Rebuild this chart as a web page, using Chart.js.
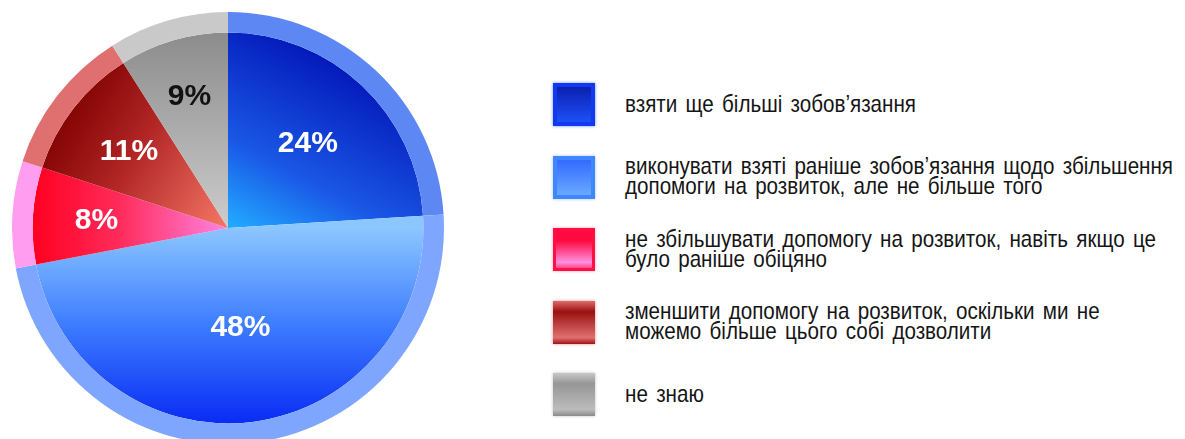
<!DOCTYPE html>
<html>
<head>
<meta charset="utf-8">
<script src="https://cdn.jsdelivr.net/npm/chart.js@4.4.0/dist/chart.umd.min.js"></script>
<style>
    html, body { margin: 0; padding: 0; background: #fff; overflow: hidden; width: 1185px; height: 439px; }
    #pieWrap { position: absolute; left: 12px; top: 12px; width: 432px; height: 432px; }
    #legend { position: absolute; left: 553px; top: 83px; }
    .item { position: relative; height: 43px; margin-bottom: 29.5px; }
    .swatch { position: absolute; left: 0; top: 0; width: 42px; height: 43px; box-sizing: border-box; }
    .text {
        position: absolute; left: 72px; top: 50%;
        font-family: "Liberation Sans", Arial, sans-serif;
        font-size: 24px; line-height: 20px; color: #151515; word-spacing: 3px;
        white-space: nowrap; transform-origin: 0 50%;
    }
</style>
</head>
<body>
<div id="pieWrap"><canvas id="pieChart" width="432" height="432"></canvas></div>
<div id="legend"></div>
<script>
"use strict";

const categories = [
    "взяти ще більші зобов’язання",
    "виконувати взяті раніше зобов’язання щодо збільшення<br>допомоги на розвиток, але не більше того",
    "не збільшувати допомогу на розвиток, навіть якщо це<br>було раніше обіцяно",
    "зменшити допомогу на розвиток, оскільки ми не<br>можемо більше цього собі дозволити",
    "не знаю"
];
const values = [24, 48, 8, 11, 9];
const valueLabels = ["24%", "48%", "8%", "11%", "9%"];

/* --- Slice colours --- */
const rimColors = ["#5d88f4", "#7fa6ff", "#ff9ef0", "#e07070", "#c9c9c9"];
const swatchStyles = [
    "background: linear-gradient(#0a1aa8, #1f55ff); box-shadow: inset 0 0 0 4px #1238f0, 0 0 3px #6a8cff;",
    "background: linear-gradient(#2c64ff, #6fb0ff); box-shadow: inset 0 0 0 4px #3f86ff, 0 0 3px #9cc4ff;",
    "background: linear-gradient(#ff0a40 30%, #ff90e0 80%, #ff2050); box-shadow: inset 0 0 0 3px #ff1040, 0 0 3px #ffa0d0;",
    "background: linear-gradient(#e06a6a, #9a1010 25%, #e07070 85%, #a01414); box-shadow: 0 0 3px #e09090;",
    "background: linear-gradient(#c8c8c8, #969696 25%, #bcbcbc 85%, #8a8a8a); box-shadow: 0 0 3px #c0c0c0;"
];

function innerFill(context) {
    const chart = context.chart;
    const area = chart.chartArea;
    if (!area) return "#888";
    const g = chart.ctx;
    const cx = (area.left + area.right) / 2;
    const cy = (area.top + area.bottom) / 2;
    let grad;
    switch (context.dataIndex) {
        case 0:
            grad = g.createLinearGradient(cx + 10, cy, cx + 110, cy - 185);
            grad.addColorStop(0, "#22a8ff");
            grad.addColorStop(0.35, "#1a58e6");
            grad.addColorStop(1, "#0010b4");
            break;
        case 1:
            grad = g.createLinearGradient(0, cy, 0, cy + 195);
            grad.addColorStop(0, "#8cc6ff");
            grad.addColorStop(0.5, "#3c7cff");
            grad.addColorStop(1, "#0a2cf4");
            break;
        case 2:
            grad = g.createLinearGradient(cx - 195, 0, cx, 0);
            grad.addColorStop(0, "#ff0020");
            grad.addColorStop(0.45, "#ff2c5c");
            grad.addColorStop(1, "#ff84e4");
            break;
        case 3:
            grad = g.createLinearGradient(cx - 170, cy - 100, cx - 10, cy);
            grad.addColorStop(0, "#840404");
            grad.addColorStop(0.4, "#b02424");
            grad.addColorStop(1, "#f07262");
            break;
        default:
            grad = g.createLinearGradient(0, cy - 195, 0, cy);
            grad.addColorStop(0, "#8c8c8c");
            grad.addColorStop(1, "#cccccc");
    }
    return grad;
}

/* --- Percent labels inside the slices --- */
const sliceLabels = {
    id: "sliceLabels",
    afterDatasetsDraw(chart, args, opts) {
        const meta = chart.getDatasetMeta(1);
        const ring = chart.getDatasetMeta(0);
        const g = chart.ctx;
        g.save();
        g.font = "bold 30px 'Liberation Sans', Arial, sans-serif";
        g.textAlign = "center";
        g.textBaseline = "middle";
        meta.data.forEach((arc, i) => {
            const full = ring.data[i].outerRadius;
            const mid = (arc.startAngle + arc.endAngle) / 2;
            const r = full * opts.radius[i];
            g.fillStyle = i === 4 ? "#111" : "#fff";
            g.fillText(valueLabels[i], arc.x + Math.cos(mid) * r, arc.y + Math.sin(mid) * r + 1);
        });
        g.restore();
    }
};

new Chart(document.getElementById("pieChart"), {
    type: "pie",
    data: {
        labels: categories,
        datasets: [
            { data: values, backgroundColor: rimColors, borderWidth: 0, weight: 2 },
            { data: values, backgroundColor: innerFill, borderWidth: 0, weight: 19 }
        ]
    },
    options: {
        responsive: false,
        animation: false,
        layout: { padding: 0 },
        plugins: {
            legend: { display: false },
            tooltip: { enabled: false },
            sliceLabels: { radius: [0.54, 0.46, 0.61, 0.58, 0.64] }
        }
    },
    plugins: [sliceLabels]
});

document.getElementById("legend").innerHTML = categories.map((c, i) => `
    <div class="item">
        <div class="swatch" style="${swatchStyles[i]}"></div>
        <div class="text">${c}</div>
    </div>`).join("");

// squeeze the legend font so the longest line spans like the original (~548px)
const texts = Array.from(document.querySelectorAll("#legend .text"));
const longest = texts[1];
const probe = document.createElement("span");
probe.style.cssText = getComputedStyle(longest).cssText;
probe.style.position = "absolute";
probe.style.visibility = "hidden";
probe.style.whiteSpace = "nowrap";
probe.style.font = "24px 'Liberation Sans', Arial, sans-serif";
probe.style.wordSpacing = "3px";
probe.textContent = categories[1].split("<br>")[0];
document.body.appendChild(probe);
const sx = 548 / probe.getBoundingClientRect().width;
probe.remove();
texts.forEach(t => { t.style.transform = `translateY(-50%) translateY(-1px) scaleX(${sx})`; });
</script>
</body>
</html>
